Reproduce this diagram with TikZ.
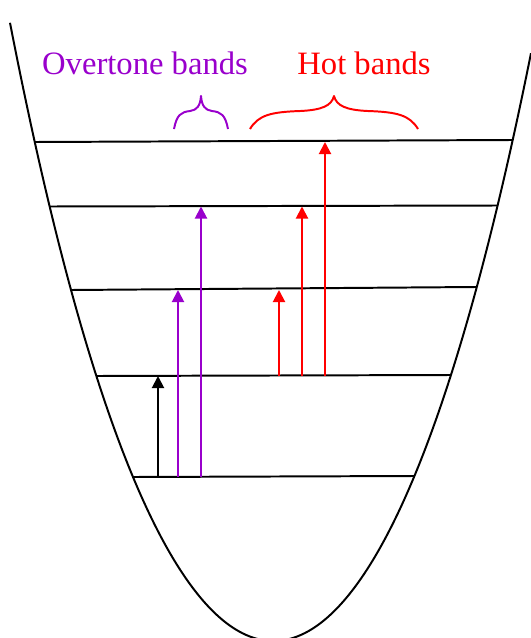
\documentclass[tikz,border=0pt]{standalone}
\usepackage{fontspec}
\setmainfont{Liberation Serif}
\usetikzlibrary{arrows.meta, calc}
\definecolor{overtone}{RGB}{153,0,204}

%% curly brace over a group of bands: left x, right x, colour
\newcommand{\bandbrace}[3]{%
  \pgfmathsetmacro\bw{(#2-#1)/2}%
  \pgfmathsetmacro\bm{(#1+#2)/2}%
  \draw[brc, #3] (#1,129)
     .. controls ({#1+0.1*\bw},115) and ({#1+0.25*\bw},112) .. ({#1+0.6*\bw},111)
     .. controls ({\bm-0.15*\bw},110) and ({\bm-0.03*\bw},106) .. (\bm,96)
     .. controls ({\bm+0.03*\bw},106) and ({\bm+0.15*\bw},110) .. ({#2-0.6*\bw},111)
     .. controls ({#2-0.25*\bw},112) and ({#2-0.1*\bw},115) .. (#2,129);}

\begin{document}
\begin{tikzpicture}[
  x=0.025cm, y=-0.025cm,
  well/.style={line width=1.4pt},
  level/.style={line width=1.4pt},
  band/.style={line width=1.4pt, color=#1,
               -{Triangle[width=0.3cm, length=0.3cm]}},
  brc/.style={line width=1.4pt, line join=round},
  lbl/.style={font=\fontsize{23.2}{27}\selectfont, inner sep=0pt},
]
\useasboundingbox (0,0) rectangle (531,638);

%% ---------- Potential well ------------------------------------
\draw[well] plot[domain=-263.5:257.5, samples=160, smooth]
  ({273.5+\x}, {641 - 80.7*(\x/100)^2 - 1.2*(\x/100)^4});

%% ---------- Vibrational levels --------------------------------
\coordinate (v0l) at (133,477);  \coordinate (v0r) at (414,476);
\coordinate (v1l) at (96,376);   \coordinate (v1r) at (451,375);
\coordinate (v2l) at (71,290);   \coordinate (v2r) at (476,287);
\coordinate (v3l) at (49,206.5); \coordinate (v3r) at (498,205.5);
\coordinate (v4l) at (35,142);   \coordinate (v4r) at (512,140);

\foreach \v in {v0,v1,v2,v3,v4}
  \draw[level] (\v l) -- (\v r);

%% ---------- Transitions ---------------------------------------
\draw[band=black]    (158,0 |- v0l) -- (158,0 |- v1l);
\draw[band=overtone] (178,0 |- v0l) -- (178,0 |- v2l);
\draw[band=overtone] (201,0 |- v0l) -- (201,0 |- v3l);

\draw[band=red] (279,0 |- v1l) -- (279,0 |- v2l);
\draw[band=red] (302,0 |- v1l) -- (302,0 |- v3l);
\draw[band=red] (325,0 |- v1l) -- (325,0 |- v4l);

%% ---------- Braces and labels ---------------------------------
\bandbrace{174}{228}{overtone}
\bandbrace{250}{418}{red}

\node[lbl, text=overtone] (ovt) at (145,63) {Overtone bands};
\node[lbl, text=red]      (hot) at (364,63) {Hot bands};
\end{tikzpicture}
\end{document}
